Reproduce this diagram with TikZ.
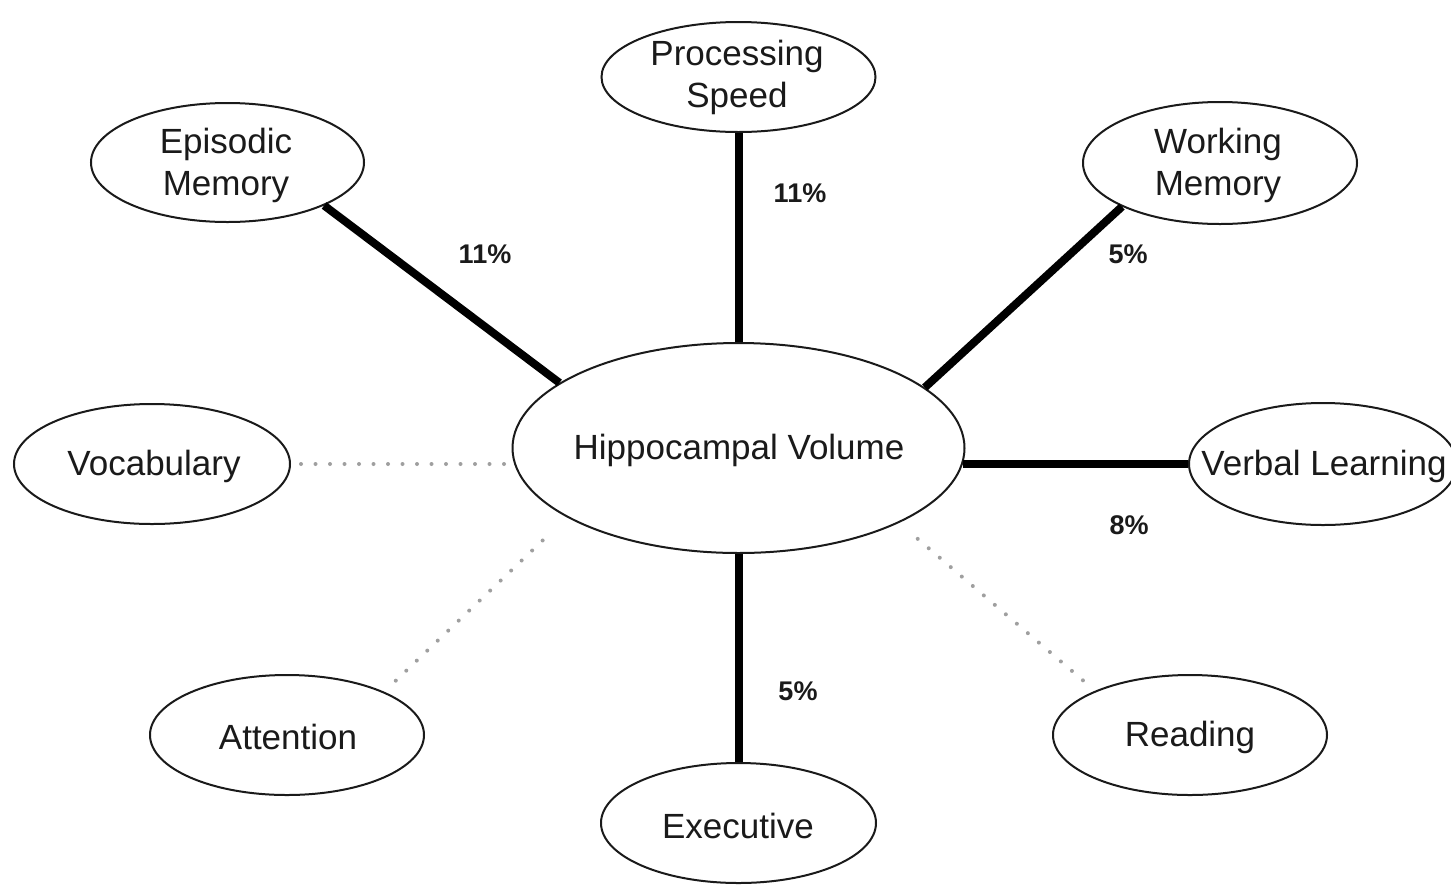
\documentclass[tikz,border=0pt]{standalone}
\usepackage{fontspec}
\setmainfont{Liberation Sans}
\usetikzlibrary{shapes.geometric}
\definecolor{ink}{HTML}{1A1A1A}
\tikzset{
  oval/.style={draw=ink, line width=2pt, shape=ellipse, inner sep=0pt, fill=white},
  caption/.style={text=ink, align=center, inner sep=0pt,
    font=\fontsize{35}{42}\selectfont},
  pct/.style={text=ink, inner sep=0pt, font=\fontsize{27}{30}\selectfont\bfseries},
  strong/.style={draw=black, line width=8pt},
  weak/.style={draw=gray!75, line width=4pt, line cap=round,
    dash pattern=on 0pt off 14.5pt},
}
\begin{document}
\begin{tikzpicture}[x=1pt, y=-1pt]
\useasboundingbox (0,0) rectangle (1451,884);

% ellipses
\node[oval, minimum width=452pt, minimum height=210pt] (hv) at (738.5,448) {};
\node[oval, minimum width=274pt, minimum height=110pt] (ps) at (738.5,77) {};
\node[oval, minimum width=273pt, minimum height=119pt] (ep) at (227.5,162.5) {};
\node[oval, minimum width=274pt, minimum height=122pt] (wm) at (1220,163) {};
\node[oval, minimum width=276pt, minimum height=120pt] (vo) at (152,464) {};
\node[oval, minimum width=268pt, minimum height=122pt] (vl) at (1323,464) {};
\node[oval, minimum width=274pt, minimum height=120pt] (at) at (287,735) {};
\node[oval, minimum width=274pt, minimum height=120pt] (rd) at (1190,735) {};
\node[oval, minimum width=275pt, minimum height=120pt] (ex) at (738.5,823) {};

% captions
\node[caption] (hvt) at (739,450) {Hippocampal Volume};
\node[caption] (pst) at (737,77) {Processing\\Speed};
\node[caption] (ept) at (226,165) {Episodic\\Memory};
\node[caption] (wmt) at (1218,165) {Working\\Memory};
\node[caption] (vot) at (154,466) {Vocabulary};
\node[caption] (vlt) at (1324,466) {Verbal Learning};
\node[caption] (att) at (288,737) {Attention};
\node[caption] (rdt) at (1190,737) {Reading};
\node[caption] (ext) at (738,826) {Executive};

% significant associations
\draw[strong] (ep.-24) -- (hv.160);
\draw[strong] (ps.south) -- (hv.north);
\draw[strong] (wm.-156.3) -- (hv.18.1);
\draw[strong] (hv.-4.1 |- vl.west) -- (vl.west);
\draw[strong] (hv.south) -- (ex.north);

% non-significant associations
\draw[weak, shorten <=10pt, shorten >=1pt] (vo.east) -- (vo.east -| hv.west);
\draw[weak, shorten <=16pt, shorten >=28pt] (at.24.1) -- (hv.202.5);
\draw[weak, shorten <=16pt, shorten >=16pt] (rd.155.9) -- (hv.-25.4);

% explained variance
\node[pct] (p1) at (485,254) {11\%};
\node[pct] (p2) at (800,193) {11\%};
\node[pct] (p3) at (1128,254) {5\%};
\node[pct] (p4) at (1129,525) {8\%};
\node[pct] (p5) at (798,691) {5\%};
\end{tikzpicture}
\end{document}
